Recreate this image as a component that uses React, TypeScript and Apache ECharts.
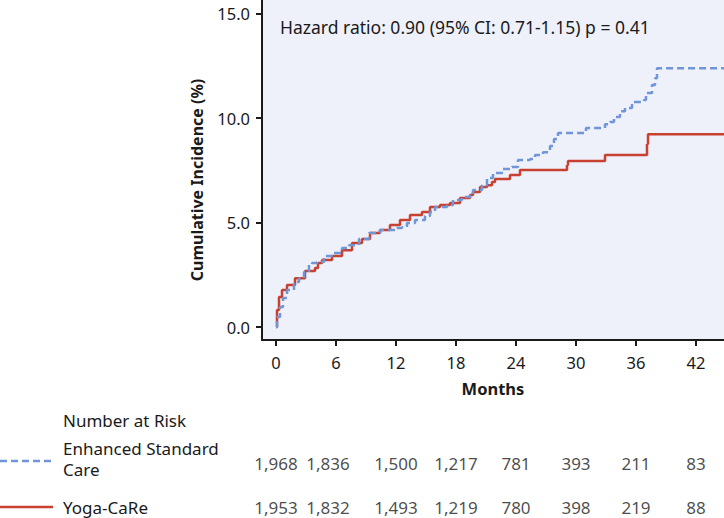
import React, { useEffect, useRef } from "react";
import * as echarts from "echarts";

const xTicks = [0, 6, 12, 18, 24, 30, 36, 42];
const yTicks = [0, 5, 10, 15];

const escMonths = [0, 0.1, 0.4, 0.7, 1.1, 1.8, 2.3, 2.8, 3.3, 3.6, 4.1, 4.8, 5.6, 6.6, 7.3, 8.3, 9.3, 10.4, 11.6, 12.1, 12.6, 13.1, 13.9, 14.5, 14.9, 15.4, 15.9, 17.1, 17.7, 18.6, 19.4, 19.7, 20.6, 21.1, 21.7, 22.7, 23.6, 24.2, 25.4, 25.9, 26.7, 27.4, 27.8, 28.2, 30.8, 31.0, 32.5, 32.9, 33.4, 33.8, 34.4, 34.9, 35.6, 36.8, 37.0, 37.6, 37.9, 38.1, 46];
const escPct = [0, 0.48, 0.96, 1.39, 1.77, 2.15, 2.34, 2.63, 2.97, 3.06, 3.11, 3.4, 3.54, 3.78, 3.92, 4.21, 4.5, 4.64, 4.64, 4.74, 4.78, 4.98, 5.12, 5.12, 5.31, 5.5, 5.74, 5.84, 6.08, 6.22, 6.32, 6.56, 6.79, 7.13, 7.37, 7.56, 7.66, 7.99, 8.04, 8.23, 8.37, 8.66, 9.0, 9.28, 9.28, 9.52, 9.52, 9.71, 9.81, 10.05, 10.33, 10.48, 10.77, 10.86, 11.2, 11.58, 11.91, 12.39, 12.39];

const yogaMonths = [0, 0.1, 0.3, 0.6, 1.1, 1.9, 2.9, 3.9, 4.2, 4.6, 5.6, 6.6, 7.6, 8.6, 9.4, 10.4, 11.4, 12.4, 13.4, 14.6, 15.4, 16.4, 17.4, 18.4, 19.4, 19.7, 20.4, 21.1, 21.6, 21.9, 23.2, 23.4, 24.4, 28.9, 29.1, 29.2, 32.9, 32.9, 37.1, 37.1, 37.2, 46];
const yogaPct = [0, 0.81, 1.44, 1.77, 2.01, 2.34, 2.68, 2.82, 3.06, 3.21, 3.4, 3.68, 4.02, 4.21, 4.5, 4.64, 4.88, 5.12, 5.36, 5.5, 5.74, 5.84, 5.93, 6.17, 6.32, 6.46, 6.7, 6.79, 6.94, 7.08, 7.08, 7.27, 7.51, 7.51, 7.75, 7.94, 7.94, 8.23, 8.23, 8.76, 9.23, 9.23];

const riskMonths = [0, 6, 12, 18, 24, 30, 36, 42];
const riskESC = [1968, 1836, 1500, 1217, 781, 393, 211, 83];
const riskYoga = [1953, 1832, 1493, 1219, 780, 398, 219, 88];

const FONT = "'Noto Sans', 'Open Sans', sans-serif";
const BLUE = "#7096d8";
const RED = "#c8402f";
const INK = "#1a1a1a";

export default function App() {
  const ref = useRef<HTMLDivElement>(null);
  useEffect(() => {
    if (!ref.current) return;
    const chart = echarts.init(ref.current, undefined, { renderer: "svg" });
    const zip = (a: number[], b: number[]) => a.map((v, i) => [v, b[i]]);
    const riskData = (vals: number[], row: number) =>
      vals.map((n, i) => ({
        value: [riskMonths[i], row, n],
        label: i === 1 ? { offset: [-8, 0] } : undefined,
      }));
    const riskLabel = {
      show: true,
      position: "inside",
      color: INK,
      fontSize: 17,
      fontFamily: FONT,
      formatter: (p: any) => Number(p.value[2]).toLocaleString("en-US"),
    };
    chart.setOption({
      animation: false,
      textStyle: { fontFamily: FONT },
      grid: [
        { left: 262, right: 0, top: 0, bottom: 178, show: true, backgroundColor: "#eef1fa", borderWidth: 0 },
        { left: 262, right: 0, top: 463, height: 44, show: false },
      ],
      xAxis: [
        {
          type: "value",
          gridIndex: 0,
          min: -1.4,
          max: 44.8,
          splitLine: { show: false },
          axisLine: { show: true, onZero: false, lineStyle: { color: INK, width: 2 } },
          axisTick: { show: true, length: 6, customValues: xTicks, lineStyle: { color: INK, width: 2 } },
          axisLabel: { customValues: xTicks, color: INK, fontSize: 16.5, margin: 14, fontFamily: FONT },
          name: "Months",
          nameLocation: "middle",
          nameGap: 40,
          nameTextStyle: { color: INK, fontSize: 16.5, fontWeight: "bold", fontFamily: FONT },
        },
        { type: "value", gridIndex: 1, min: -1.4, max: 44.8, show: false },
      ],
      yAxis: [
        {
          type: "value",
          gridIndex: 0,
          min: -0.62,
          max: 15.65,
          splitLine: { show: false },
          axisLine: { show: true, onZero: false, lineStyle: { color: INK, width: 2 } },
          axisTick: { show: true, length: 6, customValues: yTicks, lineStyle: { color: INK, width: 2 } },
          axisLabel: {
            customValues: yTicks,
            color: INK,
            fontSize: 16.5,
            margin: 12,
            fontFamily: FONT,
            formatter: (v: number) => v.toFixed(1),
          },
        },
        { type: "value", gridIndex: 1, min: 0, max: 1, show: false },
      ],
      series: [
        {
          type: "line",
          name: "Enhanced Standard Care",
          xAxisIndex: 0,
          yAxisIndex: 0,
          step: "end",
          showSymbol: false,
          symbol: "none",
          data: zip(escMonths, escPct),
          lineStyle: { color: BLUE, width: 2.5, type: [7, 4] },
          z: 3,
        },
        {
          type: "line",
          name: "Yoga-CaRe",
          xAxisIndex: 0,
          yAxisIndex: 0,
          step: "end",
          showSymbol: false,
          symbol: "none",
          data: zip(yogaMonths, yogaPct),
          lineStyle: { color: RED, width: 2.5 },
          z: 2,
        },
        {
          type: "scatter",
          xAxisIndex: 1,
          yAxisIndex: 1,
          symbolSize: 0,
          data: riskData(riskESC, 1),
          label: riskLabel,
          silent: true,
        },
        {
          type: "scatter",
          xAxisIndex: 1,
          yAxisIndex: 1,
          symbolSize: 0,
          data: riskData(riskYoga, 0),
          label: riskLabel,
          silent: true,
        },
      ],
      graphic: [
        {
          type: "text",
          x: 280,
          y: 27,
          style: {
            text: "Hazard ratio: 0.90 (95% CI: 0.71-1.15) p = 0.41",
            fill: INK,
            font: `17.5px ${FONT}`,
            textVerticalAlign: "middle",
          },
        },
        {
          type: "text",
          x: 197,
          y: 180,
          rotation: Math.PI / 2,
          style: {
            text: "Cumulative Incidence (%)",
            fill: INK,
            font: `bold 16px ${FONT}`,
            textAlign: "center",
            textVerticalAlign: "middle",
          },
        },
        {
          type: "text",
          x: 63,
          y: 420,
          style: { text: "Number at Risk", fill: INK, font: `17px ${FONT}`, textVerticalAlign: "middle" },
        },
        {
          type: "text",
          x: 63,
          y: 459,
          style: {
            text: "Enhanced Standard\nCare",
            fill: INK,
            font: `17px ${FONT}`,
            lineHeight: 21,
            textVerticalAlign: "middle",
          },
        },
        {
          type: "text",
          x: 63,
          y: 507,
          style: { text: "Yoga-CaRe", fill: INK, font: `17px ${FONT}`, textVerticalAlign: "middle" },
        },
        {
          type: "line",
          shape: { x1: 0, y1: 461, x2: 53, y2: 461 },
          style: { stroke: BLUE, lineWidth: 2.5, lineDash: [7, 4] },
        },
        {
          type: "line",
          shape: { x1: 0, y1: 507, x2: 53, y2: 507 },
          style: { stroke: RED, lineWidth: 2.5 },
        },
      ],
    });
    return () => chart.dispose();
  }, []);
  return (
    <div
      ref={ref}
      style={{ position: "fixed", left: 0, top: 0, width: 724, height: 518, background: "#fff" }}
    />
  );
}
